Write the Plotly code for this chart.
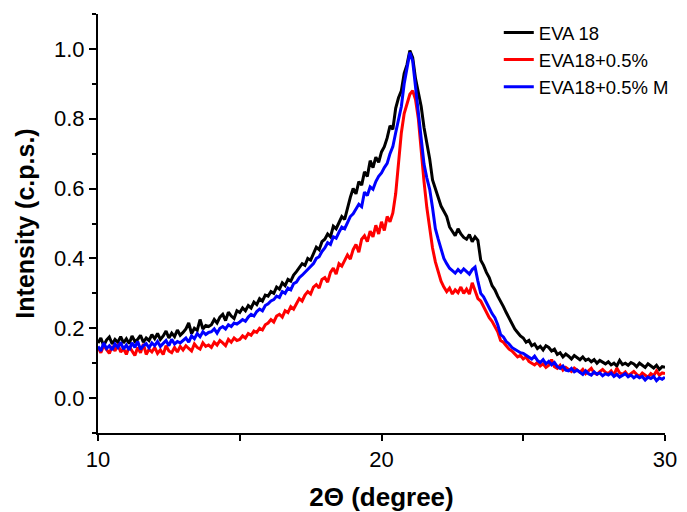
import plotly.graph_objects as go

# 2-theta positions, 0.1 degree steps from 10 to 30
two_theta = [round(10 + 0.1 * i, 1) for i in range(201)]

eva18 = [
    0.158, 0.172, 0.150, 0.166, 0.175, 0.155, 0.168, 0.160, 0.176, 0.158,
    0.170, 0.156, 0.178, 0.162, 0.168, 0.180, 0.160, 0.172, 0.165, 0.182,
    0.170, 0.185, 0.168, 0.178, 0.192, 0.172, 0.186, 0.176, 0.195, 0.180,
    0.188, 0.198, 0.215, 0.185, 0.200, 0.194, 0.225, 0.198, 0.208, 0.205,
    0.210, 0.225, 0.215, 0.232, 0.240, 0.222, 0.246, 0.235, 0.228, 0.250,
    0.245, 0.258, 0.250, 0.265, 0.258, 0.275, 0.268, 0.285, 0.278, 0.295,
    0.292, 0.305, 0.300, 0.318, 0.312, 0.330, 0.322, 0.340, 0.335, 0.352,
    0.362, 0.375, 0.385, 0.380, 0.400, 0.395, 0.415, 0.432, 0.425, 0.448,
    0.455, 0.470, 0.462, 0.492, 0.485, 0.505, 0.520, 0.512, 0.545, 0.575,
    0.600, 0.585, 0.620, 0.610, 0.648, 0.635, 0.680, 0.660, 0.690, 0.675,
    0.705, 0.720, 0.745, 0.780, 0.770, 0.830, 0.860, 0.880, 0.930, 0.955,
    0.995, 0.975, 0.915, 0.870, 0.835, 0.775, 0.735, 0.685, 0.625, 0.600,
    0.575, 0.550, 0.535, 0.520, 0.490, 0.478, 0.465, 0.485, 0.470, 0.460,
    0.455, 0.468, 0.448, 0.462, 0.452, 0.395, 0.380, 0.360, 0.345, 0.322,
    0.310, 0.292, 0.278, 0.262, 0.245, 0.228, 0.212, 0.198, 0.188, 0.178,
    0.172, 0.160, 0.165, 0.150, 0.155, 0.142, 0.148, 0.138, 0.150, 0.145,
    0.135, 0.140, 0.125, 0.130, 0.118, 0.126, 0.120, 0.112, 0.122, 0.115,
    0.110, 0.118, 0.108, 0.112, 0.104, 0.110, 0.100, 0.108, 0.102, 0.098,
    0.104, 0.095, 0.100, 0.092, 0.108, 0.096, 0.100, 0.094, 0.102, 0.098,
    0.090, 0.100, 0.094, 0.088, 0.098, 0.092, 0.086, 0.094, 0.082, 0.090,
    0.088,
]

eva18_05 = [
    0.145, 0.130, 0.150, 0.138, 0.128, 0.148, 0.135, 0.155, 0.132, 0.142,
    0.125, 0.148, 0.135, 0.122, 0.145, 0.130, 0.155, 0.125, 0.140, 0.132,
    0.145, 0.128, 0.138, 0.125, 0.150, 0.135, 0.130, 0.145, 0.132, 0.148,
    0.138, 0.150, 0.142, 0.135, 0.155, 0.145, 0.140, 0.158, 0.148, 0.152,
    0.145, 0.160, 0.152, 0.165, 0.158, 0.150, 0.168, 0.160, 0.172, 0.165,
    0.168, 0.178, 0.172, 0.185, 0.180, 0.192, 0.188, 0.200, 0.195, 0.210,
    0.215, 0.225, 0.218, 0.235, 0.240, 0.232, 0.250, 0.245, 0.262, 0.255,
    0.270, 0.285, 0.278, 0.295, 0.305, 0.298, 0.318, 0.325, 0.315, 0.340,
    0.345, 0.332, 0.360, 0.372, 0.355, 0.385, 0.378, 0.395, 0.410, 0.398,
    0.425, 0.440, 0.418, 0.455, 0.465, 0.448, 0.478, 0.462, 0.495, 0.470,
    0.505, 0.480, 0.520, 0.505, 0.530, 0.585, 0.680, 0.760, 0.815, 0.845,
    0.870, 0.880, 0.855, 0.800, 0.700, 0.620, 0.545, 0.480, 0.430, 0.390,
    0.360, 0.335, 0.318, 0.305, 0.315, 0.298, 0.310, 0.302, 0.318, 0.300,
    0.312, 0.298, 0.330, 0.305, 0.285, 0.278, 0.262, 0.250, 0.230, 0.220,
    0.205, 0.190, 0.165, 0.160, 0.150, 0.140, 0.135, 0.125, 0.118, 0.122,
    0.112, 0.118, 0.105, 0.100, 0.095, 0.102, 0.092, 0.098, 0.088, 0.094,
    0.110, 0.090, 0.085, 0.094, 0.080, 0.088, 0.082, 0.076, 0.086, 0.080,
    0.074, 0.082, 0.070, 0.078, 0.085, 0.072, 0.068, 0.076, 0.082, 0.074,
    0.070, 0.078, 0.066, 0.086, 0.072, 0.068, 0.075, 0.064, 0.070, 0.076,
    0.068, 0.062, 0.072, 0.066, 0.060, 0.070, 0.064, 0.078, 0.066, 0.072,
    0.070,
]

eva18_05m = [
    0.148, 0.135, 0.158, 0.142, 0.150, 0.138, 0.155, 0.145, 0.160, 0.140,
    0.152, 0.138, 0.158, 0.145, 0.162, 0.140, 0.150, 0.156, 0.144, 0.158,
    0.150, 0.162, 0.148, 0.158, 0.165, 0.150, 0.168, 0.155, 0.162, 0.158,
    0.165, 0.172, 0.160, 0.178, 0.170, 0.185, 0.176, 0.190, 0.182, 0.188,
    0.190, 0.198, 0.186, 0.200, 0.205, 0.198, 0.210, 0.205, 0.215, 0.212,
    0.218, 0.225, 0.220, 0.232, 0.240, 0.235, 0.248, 0.255, 0.250, 0.265,
    0.270, 0.278, 0.282, 0.292, 0.288, 0.305, 0.300, 0.315, 0.310, 0.328,
    0.332, 0.345, 0.352, 0.360, 0.368, 0.378, 0.385, 0.400, 0.405, 0.420,
    0.430, 0.445, 0.440, 0.462, 0.458, 0.475, 0.490, 0.485, 0.505, 0.520,
    0.528, 0.540, 0.555, 0.548, 0.590, 0.580, 0.605, 0.598, 0.620, 0.635,
    0.645, 0.660, 0.672, 0.700, 0.720, 0.760, 0.800, 0.835, 0.900, 0.940,
    0.990, 0.965, 0.890, 0.830, 0.745, 0.670, 0.630, 0.598, 0.545, 0.485,
    0.455, 0.425, 0.400, 0.385, 0.372, 0.365, 0.358, 0.368, 0.360, 0.370,
    0.362, 0.355, 0.368, 0.375, 0.335, 0.300, 0.290, 0.272, 0.258, 0.242,
    0.230, 0.210, 0.182, 0.175, 0.162, 0.155, 0.145, 0.140, 0.135, 0.130,
    0.128, 0.122, 0.118, 0.112, 0.120, 0.108, 0.102, 0.110, 0.098, 0.105,
    0.095, 0.102, 0.090, 0.085, 0.092, 0.080, 0.078, 0.085, 0.075, 0.080,
    0.074, 0.068, 0.078, 0.070, 0.066, 0.075, 0.068, 0.072, 0.064, 0.070,
    0.066, 0.072, 0.062, 0.068, 0.060, 0.066, 0.070, 0.061, 0.066, 0.058,
    0.064, 0.058, 0.062, 0.052, 0.060, 0.056, 0.062, 0.050, 0.058, 0.054,
    0.060,
]

series_names = ["EVA 18", "EVA18+0.5%", "EVA18+0.5% M"]
series_values = [eva18, eva18_05, eva18_05m]
series_colors = ["#000000", "#ff0000", "#0000ff"]

x_tick_vals = [10, 20, 30]
y_tick_vals = [0.0, 0.2, 0.4, 0.6, 0.8, 1.0]

FONT = "Liberation Sans, Arial, sans-serif"

fig = go.Figure()
for name, vals, col in zip(series_names, series_values, series_colors):
    fig.add_trace(go.Scatter(
        x=two_theta, y=vals, mode="lines", name=name,
        line=dict(color=col, width=3),
    ))

fig.update_layout(
    width=687, height=512,
    margin=dict(l=98, r=22, t=14, b=79),
    paper_bgcolor="white", plot_bgcolor="white",
    font=dict(family=FONT, size=19, color="#000000"),
    showlegend=True,
    legend=dict(
        x=1.0155, y=1.0, xanchor="right", yanchor="top",
        bgcolor="rgba(0,0,0,0)", borderwidth=0,
        font=dict(family=FONT, size=18.5, color="#000000"),
        tracegroupgap=0, itemwidth=30,
    ),
    xaxis=dict(
        range=[10, 30], tickmode="array", tickvals=x_tick_vals,
        automargin=False,
        showline=True, linecolor="#000000", linewidth=2,
        ticks="outside", ticklen=6, tickwidth=2, tickcolor="#000000",
        minor=dict(ticks="outside", ticklen=6, tickwidth=2, tickcolor="#000000", dtick=5, tick0=10),
        showgrid=False, zeroline=False, mirror=False,
        tickfont=dict(family=FONT, size=22),
        title=dict(text="<b>2Θ (degree)</b>", font=dict(family=FONT, size=26), standoff=16),
    ),
    yaxis=dict(
        range=[-0.1, 1.1], tickmode="array", tickvals=y_tick_vals, tickformat=".1f",
        automargin=False,
        showline=True, linecolor="#000000", linewidth=2,
        ticks="outside", ticklen=7, tickwidth=2, tickcolor="#000000",
        minor=dict(ticks="outside", ticklen=4, tickwidth=2, tickcolor="#000000", dtick=0.1, tick0=0),
        showgrid=False, zeroline=False, mirror=False,
        tickfont=dict(family=FONT, size=22),
        title=dict(text="<b>Intensity (c.p.s.)</b>", font=dict(family=FONT, size=25), standoff=12),
    ),
)

fig.write_html("out.html")
